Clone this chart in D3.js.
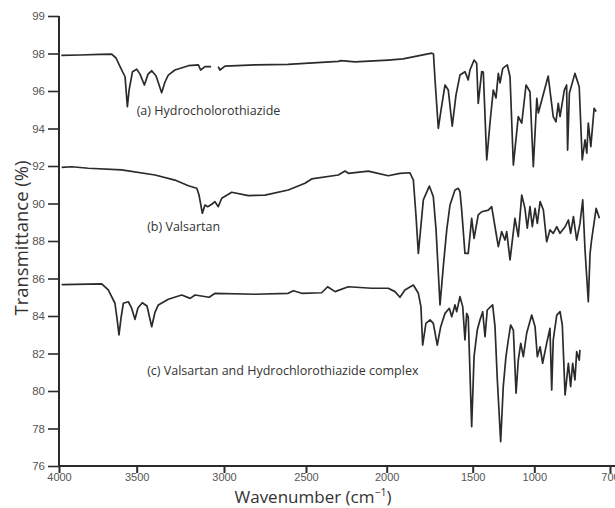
<!DOCTYPE html>
<html><head><meta charset="utf-8">
<script src="https://cdn.jsdelivr.net/npm/d3@7"></script>
<style>body{margin:0;background:#fff}svg{display:block}</style>
</head><body><svg id="c" width="615" height="508"></svg>
<script>
// ---- data (wavenumber cm-1, transmittance %) ----
const xTicks = [4000, 3500, 3000, 2500, 2000, 1500, 1000, 700];
const yTicks = [76, 78, 80, 82, 84, 86, 88, 90, 92, 94, 96, 98, 99];
const seriesLabels = ["(a) Hydrocholorothiazide", "(b) Valsartan", "(c) Valsartan and Hydrochlorothiazide complex"];

const specA = [
[3985,97.9],[3865,97.92],[3736,97.95],[3661,97.97],[3633,97.76],[3607,97.3],[3575,96.76],[3560,95.16],[3549,96.05],[3527,97.03],
[3500,97.16],[3481,96.9],[3456,96.32],[3435,96.9],[3414,97.08],[3389,96.8],[3357,95.91],[3338,96.48],[3319,96.85],[3281,97.12],
[3204,97.35],[3147,97.39],[3134,97.12],[3109,97.3],[3074,97.3],[3050,null],[3033,97.3],[3023,97.12],[2994,97.33],[2811,97.39],
[2610,97.42],[2300,97.58],[2283,97.62],[2196,97.55],[1991,97.65],[1905,97.71],[1738,98.01],[1728,97.97],[1719,96.59],[1700,94.01],
[1684,94.99],[1661,96.32],[1642,96.05],[1619,94.13],[1597,95.79],[1574,96.85],[1545,97.03],[1526,96.59],[1516,97.12],[1489,97.65],
[1468,97.48],[1455,95.34],[1427,97.03],[1414,97.01],[1386,92.32],[1360,94.28],[1333,96.05],[1311,95.63],[1292,96.94],[1278,96.43],
[1256,97.21],[1219,97.39],[1197,96.76],[1170,92.05],[1130,94.63],[1102,94.29],[1067,96.32],[1035,95.96],[1008,91.96],[990,95.61],
[984,94.83],[945,96.8],[925,94.63],[914,94.36],[905,95.34],[898,94.63],[881,96.05],[872,96.32],[868,92.85],[861,95.88],
[839,96.94],[822,96.23],[810,92.32],[799,93.39],[792,92.68],[786,94.29],[776,93.03],[763,95.08],[755,94.9]
];
const specB = [
[3983,91.93],[3918,91.96],[3811,91.88],[3597,91.79],[3395,91.52],[3281,91.25],[3204,90.95],[3156,90.81],[3143,90.45],[3124,89.48],
[3109,89.92],[3093,89.83],[3070,89.96],[3052,90.1],[3033,89.83],[3013,90.28],[2953,90.6],[2852,90.42],[2750,90.45],[2608,90.72],
[2506,91.08],[2465,91.31],[2300,91.52],[2258,91.73],[2238,91.61],[2114,91.73],[1991,91.48],[1923,91.61],[1865,91.64],[1845,91.25],
[1830,89.39],[1816,87.34],[1806,88.32],[1787,90.19],[1752,90.93],[1729,90.36],[1713,88.59],[1690,84.59],[1671,86.63],[1651,88.59],
[1632,89.92],[1603,90.72],[1584,90.81],[1574,90.63],[1564,89.65],[1545,87.34],[1526,87.34],[1506,89.21],[1489,88.14],[1455,89.39],
[1427,89.56],[1373,89.65],[1346,89.83],[1319,88.76],[1292,87.7],[1265,88.5],[1238,88.05],[1224,88.5],[1197,86.99],[1157,89.21],
[1130,88.23],[1102,90.45],[1076,89.74],[1057,88.68],[1035,89.83],[1016,88.76],[997,89.74],[988,88.94],[977,90.1],[964,89.65],
[951,87.96],[938,88.59],[925,88.41],[911,88.76],[898,88.41],[878,88.76],[865,89.12],[856,88.41],[845,89.3],[832,88.05],
[819,88.94],[808,90.19],[799,87.52],[786,84.76],[779,87.34],[773,88.05],[755,89.74],[742,89.21]
];
const specC = [
[3983,85.67],[3725,85.71],[3683,85.39],[3640,84.68],[3627,83.89],[3614,82.99],[3601,83.89],[3586,84.68],[3554,84.76],[3533,84.43],
[3511,83.82],[3493,84.43],[3468,84.71],[3441,84.53],[3414,83.43],[3395,84.21],[3376,84.59],[3319,84.89],[3242,85.12],[3194,84.94],
[3166,85.12],[3085,85.0],[3051,85.21],[2811,85.16],[2608,85.21],[2577,85.35],[2526,85.21],[2403,85.24],[2366,85.56],[2320,85.3],
[2238,85.56],[2093,85.48],[1991,85.48],[1952,85.3],[1923,85.0],[1894,85.39],[1845,85.65],[1816,85.21],[1801,84.5],[1791,82.45],
[1772,83.61],[1748,83.79],[1729,83.61],[1706,82.45],[1686,83.43],[1661,84.14],[1636,84.41],[1622,83.96],[1603,84.59],[1593,84.23],
[1574,85.03],[1558,84.5],[1545,82.72],[1535,84.14],[1526,83.96],[1506,78.1],[1489,81.83],[1463,83.25],[1441,83.79],[1419,84.23],
[1400,82.9],[1382,84.32],[1338,84.59],[1319,83.43],[1300,80.59],[1273,77.3],[1252,80.23],[1230,81.83],[1211,82.72],[1192,83.52],
[1170,83.25],[1148,79.88],[1130,81.65],[1110,82.54],[1089,81.83],[1062,83.08],[1021,84.05],[997,83.43],[988,81.83],[977,82.36],
[967,81.48],[951,82.54],[938,83.34],[931,80.05],[925,82.72],[911,84.05],[898,84.23],[889,83.52],[878,79.79],[865,81.48],
[856,80.23],[848,81.48],[839,80.59],[832,82.1],[822,81.65],[819,82.19]
];
const labelPos = [[3500, 94.7], [3440, 88.55], [3440, 80.85]];

// ---- chart ----
const svg = d3.select("#c");
const x = d3.scaleLinear()
  .domain(xTicks)
  .range([59, 136.7, 224, 306, 386.7, 472.7, 534.3, 610]);
const y = d3.scaleLinear()
  .domain([76, 98, 99])
  .range([466, 53.5, 16]);

const ink = "#2b2b2b";

// axes
const yAxis = d3.axisLeft(y).tickValues(yTicks).tickSize(11).tickPadding(3).tickFormat(d3.format("d"));
const gy = svg.append("g").attr("transform", "translate(59,0)").call(yAxis);
gy.select(".domain").attr("stroke", ink).attr("stroke-width", 2).attr("d", "M0,16V466");
gy.selectAll(".tick line").attr("stroke", ink).attr("stroke-width", 1.6);
gy.selectAll(".tick text").attr("font-family", "Liberation Sans, Arial, sans-serif").attr("font-size", 11.5).attr("fill", "#555");

const xAxis = d3.axisBottom(x).tickValues(xTicks).tickSize(7).tickPadding(0).tickFormat(d3.format("d"));
const gx = svg.append("g").attr("transform", "translate(0,466)").call(xAxis);
gx.select(".domain").attr("stroke", ink).attr("stroke-width", 2).attr("d", "M59,0H615");
gx.selectAll(".tick line").attr("stroke", ink).attr("stroke-width", 2);
gx.selectAll(".tick text").attr("font-family", "Liberation Sans, Arial, sans-serif").attr("font-size", 11).attr("fill", "#555");

// axis titles
svg.append("text").attr("transform", "translate(28,238) rotate(-90)").attr("text-anchor", "middle")
  .attr("font-family", "Open Sans, sans-serif").attr("font-size", 18.5).attr("fill", "#333")
  .text("Transmittance (%)");
const xt = svg.append("text").attr("x", 313).attr("y", 503).attr("text-anchor", "middle")
  .attr("font-family", "Open Sans, sans-serif").attr("font-size", 17).attr("fill", "#333");
xt.append("tspan").text("Wavenumber (cm");
xt.append("tspan").attr("dy", -7).attr("font-size", 10.5).text("−1");
xt.append("tspan").attr("dy", 7).text(")");

// spectra
const line = d3.line().defined(d => d[1] !== null).x(d => x(d[0])).y(d => y(d[1]));
[specA, specB, specC].forEach(s => {
  svg.append("path").datum(s).attr("d", line).attr("fill", "none")
    .attr("stroke", ink).attr("stroke-width", 1.7).attr("stroke-linejoin", "round");
});

// labels
seriesLabels.forEach((t, i) => {
  svg.append("text").attr("x", x(labelPos[i][0])).attr("y", y(labelPos[i][1]))
    .attr("font-family", "Open Sans, sans-serif").attr("font-size", 12.5).attr("fill", "#333").text(t);
});
</script></body></html>
